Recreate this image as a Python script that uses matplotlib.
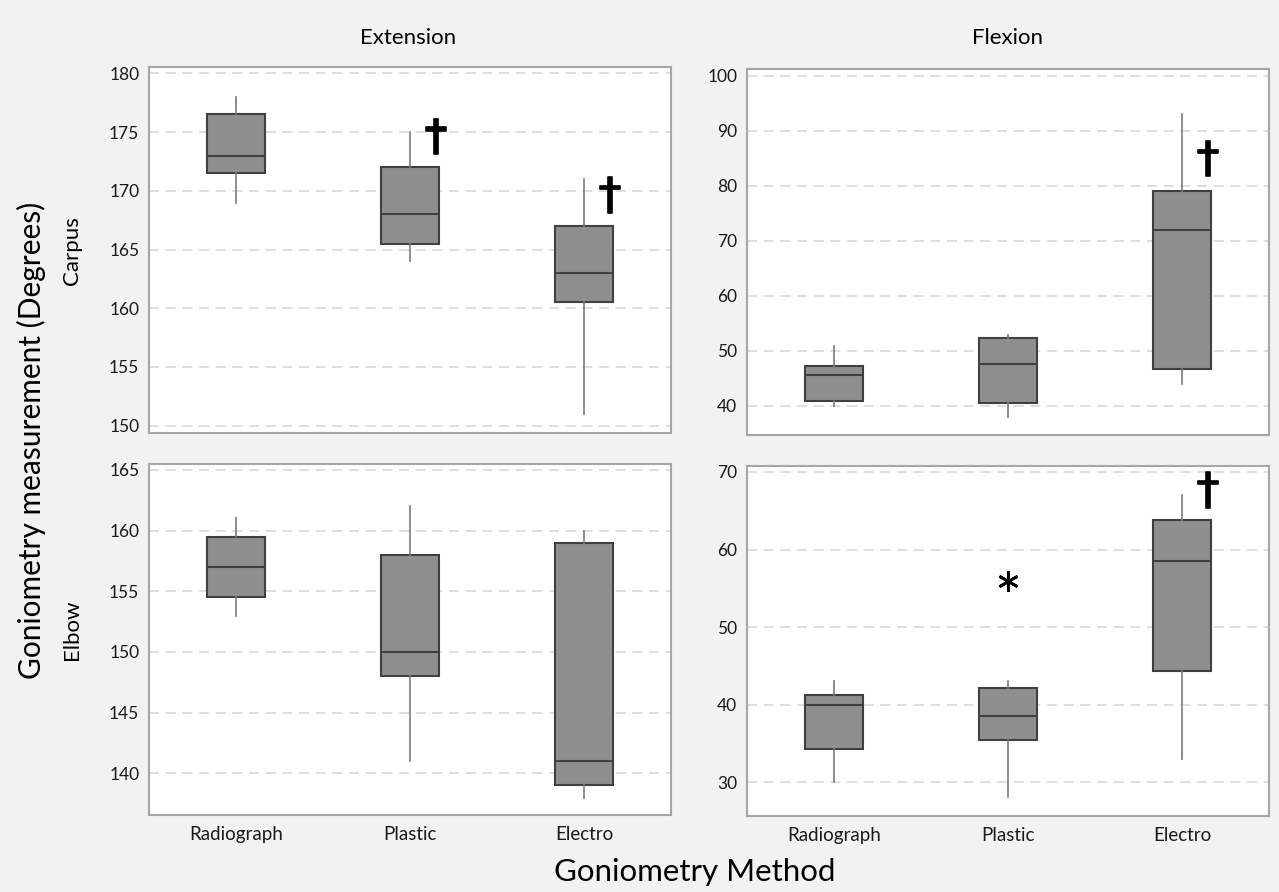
import matplotlib.pyplot as plt
import matplotlib.patheffects as pe

plt.rcParams['font.family'] = ['Lato', 'DejaVu Sans']

# ------------------------------------------------------------------
# Data
# ------------------------------------------------------------------
methods = ["Radiograph", "Plastic", "Electro"]

# Carpus - Extension
ce_low = [169, 164, 151]
ce_q1 = [171.5, 165.5, 160.5]
ce_med = [173, 168, 163]
ce_q3 = [176.5, 172, 167]
ce_high = [178, 175, 171]

# Carpus - Flexion
cf_low = [40, 38, 44]
cf_q1 = [40.8, 40.5, 46.7]
cf_med = [45.5, 47.5, 72]
cf_q3 = [47.3, 52.3, 79]
cf_high = [50.9, 52.8, 93]

# Elbow - Extension
ee_low = [153, 141, 138]
ee_q1 = [154.5, 148, 139]
ee_med = [157, 150, 141]
ee_q3 = [159.5, 158, 159]
ee_high = [161, 162, 160]

# Elbow - Flexion
ef_low = [30, 28.1, 33]
ef_q1 = [34.3, 35.5, 44.3]
ef_med = [40, 38.5, 58.5]
ef_q3 = [41.3, 42.2, 63.8]
ef_high = [43, 43, 67]
ef_outliers = [[], [55.9], []]

# dagger marks: (method index, value)
ce_dagger = [(1, 174.5), (2, 169.5)]
cf_dagger = [(2, 84.6)]
ee_dagger = []
ef_dagger = [(2, 67.5)]

ce_ticks = [150, 155, 160, 165, 170, 175, 180]
cf_ticks = [40, 50, 60, 70, 80, 90, 100]
ee_ticks = [140, 145, 150, 155, 160, 165]
ef_ticks = [30, 40, 50, 60, 70]

# ------------------------------------------------------------------
# Figure
# ------------------------------------------------------------------
W, H = 1279, 892
fig = plt.figure(figsize=(W / 100, H / 100), dpi=100, facecolor='#f2f2f2')

def add_ax(x0, y0, x1, y1):
    return fig.add_axes([x0 / W, 1 - y1 / H, (x1 - x0) / W, (y1 - y0) / H])

panels = [
    (add_ax(149, 67, 671, 433), ce_low, ce_q1, ce_med, ce_q3, ce_high, None,
     ce_dagger, (149.38, 180.54), ce_ticks, False),
    (add_ax(747, 69, 1269, 435), cf_low, cf_q1, cf_med, cf_q3, cf_high, None,
     cf_dagger, (34.67, 101.2), cf_ticks, False),
    (add_ax(149, 464, 671, 815), ee_low, ee_q1, ee_med, ee_q3, ee_high, None,
     ee_dagger, (136.56, 165.49), ee_ticks, True),
    (add_ax(747, 466, 1269, 816), ef_low, ef_q1, ef_med, ef_q3, ef_high, ef_outliers,
     ef_dagger, (25.66, 70.77), ef_ticks, True),
]

for ax, lo, q1, med, q3, hi, fl, dag, ylim, ticks, show_x in panels:
    stats = []
    for i in range(3):
        stats.append({
            "whislo": lo[i], "q1": q1[i], "med": med[i], "q3": q3[i],
            "whishi": hi[i], "fliers": fl[i] if fl else [],
        })
    ax.bxp(stats, positions=[1, 2, 3], widths=0.33, patch_artist=True,
           showcaps=False, showfliers=True,
           boxprops=dict(facecolor='#8f8f8f', edgecolor='#404040', linewidth=1.5),
           medianprops=dict(color='#404040', linewidth=1.5),
           whiskerprops=dict(color='#7a7a7a', linewidth=1.2),
           flierprops=dict(marker=(6, 2, 0), markersize=15, markeredgewidth=2.0,
                           markeredgecolor='black', linestyle='none'))
    # significance daggers
    for i, y in dag:
        ax.text(i + 1 + 0.15, y, "\u2020", ha='center', va='center',
                fontsize=31, family='DejaVu Sans', color='black',
                path_effects=[pe.withStroke(linewidth=1.2, foreground='black')])

    ax.set_xlim(0.5, 3.5)
    ax.set_ylim(*ylim)
    ax.set_yticks(ticks)
    ax.set_facecolor('white')
    ax.grid(axis='y', linestyle=(0, (6, 4)), color='#d9d9d9', linewidth=1.2)
    ax.set_axisbelow(True)
    for s in ax.spines.values():
        s.set_color('#a6a6a6')
        s.set_linewidth(1.5)
    ax.tick_params(axis='y', length=0, labelsize=12.5, pad=7, colors='#1a1a1a')
    ax.tick_params(axis='x', length=0, labelsize=13.5, pad=8, colors='#1a1a1a')
    ax.set_xticks([1, 2, 3])
    if show_x:
        ax.set_xticklabels(methods)
    else:
        ax.set_xticklabels([])

fig.text(408 / W, 1 - 38 / H, "Extension", ha='center', va='center', fontsize=16)
fig.text(1008 / W, 1 - 38 / H, "Flexion", ha='center', va='center', fontsize=16)
fig.text(72 / W, 1 - 251 / H, "Carpus", ha='center', va='center', fontsize=16, rotation=90)
fig.text(72 / W, 1 - 630 / H, "Elbow", ha='center', va='center', fontsize=16, rotation=90)
fig.text(31 / W, 1 - 440 / H, "Goniometry measurement (Degrees)", ha='center',
         va='center', fontsize=21.5, rotation=90)
fig.text(695 / W, 1 - 881 / H, "Goniometry Method", ha='center', va='baseline',
         fontsize=22.5)

plt.savefig("out.png", dpi=100, facecolor=fig.get_facecolor())
plt.close()
